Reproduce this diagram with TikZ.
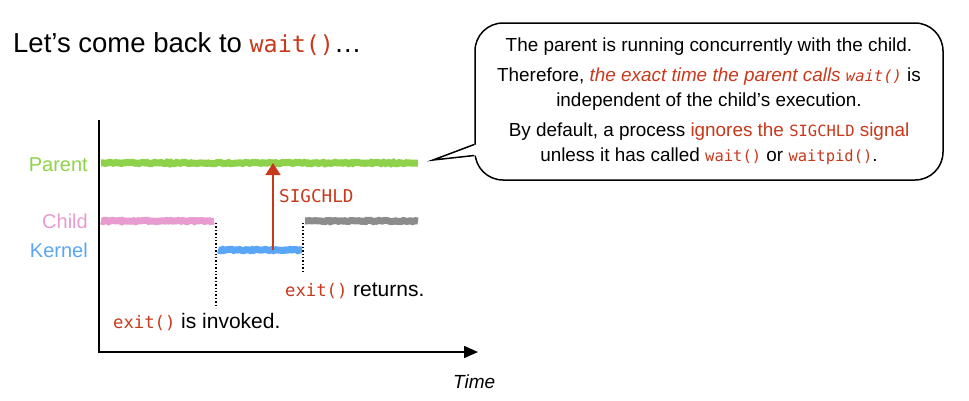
\documentclass[tikz,border=0pt]{standalone}
\usepackage{fontspec}
\setmainfont{Liberation Sans}
\setmonofont[Scale=0.82]{DejaVu Sans Mono}
\usetikzlibrary{positioning, arrows.meta, decorations.pathmorphing}
\definecolor{sigred}{HTML}{C8391B}
\definecolor{parentgreen}{HTML}{8DD24A}
\definecolor{childpink}{HTML}{E79BCE}
\definecolor{kernelblue}{HTML}{5AA6F6}
\definecolor{idlegray}{HTML}{8C8C8C}
\newcommand{\code}[1]{\textcolor{sigred}{\texttt{#1}}}

\begin{document}
\begin{tikzpicture}[x=1pt,y=-1pt]
                    \pgfmathsetseed{7}
                    \tikzstyle{every node}=[font=\fontsize{20}{24}\selectfont, inner sep=0pt]
                    \tikzstyle{note} = [font=\fontsize{21}{24}\selectfont]
                    \tikzstyle{bar} = [line width=7pt, decorate, decoration={random steps, segment length=2pt, amplitude=0.7pt}]
                    \tikzstyle{axis} = [line width=1.6pt, black]
                    \tikzstyle{hint} = [dotted, line width=1.4pt]
                    \tikzstyle{signal} = [line width=1.6pt, sigred, -{Triangle[length=12pt,width=15pt]}]
                    \tikzstyle{bubble} = [draw, line width=1.5pt, rounded corners=28pt, fill=white, minimum width=468pt, minimum height=157pt, align=center, font=\fontsize{18.9}{25}\selectfont]

                    \useasboundingbox (0,0) rectangle (969,400);

                    \node[anchor=base west, font=\fontsize{27.5}{30}\selectfont] (title) at (13,52) {Let's come back to {\fontsize{28.5}{30}\selectfont\code{wait()}}…};

                    % axes
                    \coordinate (ytop) at (99,120);
                    \coordinate (origin) at (99,352);
                    \coordinate (xend) at (478,352);
                    \draw[axis, -{Triangle[length=14pt,width=12pt]}] (ytop) -- (origin) -- (xend);
                    \node[anchor=base west, font=\fontsize{19}{22}\selectfont\itshape] (time) at (453,388) {Time};

                    % process lines
                    \node[anchor=base east, text=parentgreen] (parent) at (88,171) {Parent};
                    \node[anchor=base east, text=childpink] (child) at (88,228) {Child};
                    \node[anchor=base east, text=kernelblue] (kernel) at (88,257) {Kernel};

                    \coordinate (p0) at (101,163); \coordinate (p1) at (418,163);
                    \coordinate (c0) at (101,221); \coordinate (c1) at (214,221);
                    \coordinate (k0) at (218,250); \coordinate (k1) at (302,250);
                    \coordinate (g0) at (305,221); \coordinate (g1) at (418,221);
                    \draw[bar, parentgreen] (p0) -- (p1);
                    \draw[bar, childpink] (c0) -- (c1);
                    \draw[bar, kernelblue] (k0) -- (k1);
                    \draw[bar, idlegray] (g0) -- (g1);

                    % exit() marks
                    \coordinate (in0) at (216,223); \coordinate (in1) at (216,308);
                    \coordinate (out0) at (303,223); \coordinate (out1) at (303,273);
                    \draw[hint] (in0) -- (in1);
                    \draw[hint] (out0) -- (out1);
                    \node[note, anchor=base west] (invoked) at (113,328) {\code{exit()} is invoked.};
                    \node[note, anchor=base west] (returns) at (285,296) {\code{exit()} returns.};

                    % signal
                    \coordinate (sigfrom) at (273,250);
                    \coordinate (sigto) at (273,163);
                    \draw[signal] (sigfrom) -- (sigto);
                    \node[anchor=base west, font=\fontsize{21.5}{24}\selectfont] (sigchld) at (279,202) {\code{SIGCHLD}};

                    % speech bubble
                    \node[bubble] (note) at (709,101.5) {The parent is running concurrently with the child.\\[5pt]
                        Therefore, {\color{sigred}\itshape the exact time the parent calls \texttt{wait()}} is\\
                        independent of the child's execution.\\[5pt]
                        By default, a process {\color{sigred}ignores the \texttt{SIGCHLD} signal}\\
                        unless it has called \code{wait()} or \code{waitpid()}.};
                    \coordinate (tip) at (433,160);
                    \fill[white] ([xshift=2pt,yshift=-43pt]note.west) -- (tip) -- ([xshift=2pt,yshift=-54pt]note.west) -- cycle;
                    \draw[line width=1.5pt, line join=miter] ([yshift=-43pt]note.west) -- (tip) -- ([yshift=-54pt]note.west);
            \end{tikzpicture}
\end{document}
